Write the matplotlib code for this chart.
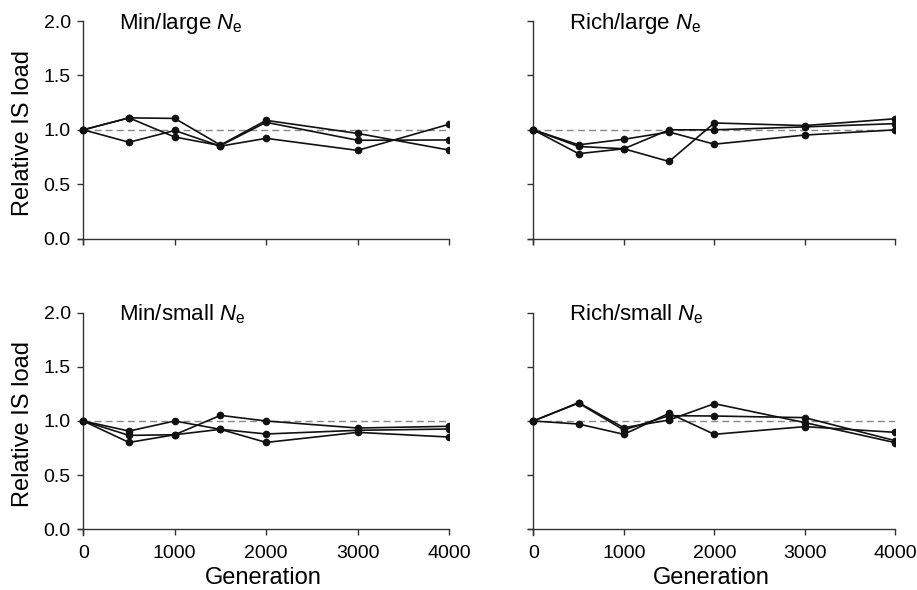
import matplotlib
matplotlib.use("Agg")
import matplotlib.pyplot as plt

plt.rcParams['font.family'] = ['Liberation Sans', 'DejaVu Sans']
plt.rcParams['mathtext.fontset'] = 'custom'
plt.rcParams['mathtext.rm'] = 'Liberation Sans'
plt.rcParams['mathtext.it'] = 'Liberation Sans:italic'

generations = [0, 500, 1000, 1500, 2000, 3000, 4000]

min_large = [
    [1.0, 1.11, 1.105, 0.86, 1.087, 0.967, 0.814],
    [1.0, 1.11, 0.934, 0.855, 1.069, 0.904, 0.907],
    [1.0, 0.886, 0.994, 0.85, 0.922, 0.811, 1.051],
]
rich_large = [
    [1.0, 0.862, 0.913, 0.98, 0.868, 0.952, 1.0],
    [1.0, 0.847, 0.826, 1.0, 1.0, 1.027, 1.057],
    [1.0, 0.781, 0.826, 0.709, 1.063, 1.039, 1.102],
]
min_small = [
    [1.0, 0.867, 0.873, 1.052, 1.0, 0.935, 0.951],
    [1.0, 0.907, 1.0, 0.923, 0.88, 0.914, 0.926],
    [1.0, 0.802, 0.873, 0.923, 0.802, 0.895, 0.852],
]
rich_small = [
    [1.0, 1.17, 0.938, 1.009, 1.16, 0.985, 0.80],
    [1.0, 1.165, 0.917, 1.049, 1.046, 1.031, 0.818],
    [1.0, 0.972, 0.877, 1.071, 0.877, 0.948, 0.895],
]

panel_titles = ["Min/large $N_\\mathrm{e}$", "Rich/large $N_\\mathrm{e}$",
                "Min/small $N_\\mathrm{e}$", "Rich/small $N_\\mathrm{e}$"]
panel_data = [min_large, rich_large, min_small, rich_small]

x_ticks = [0, 1000, 2000, 3000, 4000]
y_ticks = [0.0, 0.5, 1.0, 1.5, 2.0]

W, H = 917, 590
fig = plt.figure(figsize=(W / 100, H / 100), dpi=100)

rects = [
    (77.8 / W, (H - 244.1) / H, (449 - 77.8) / W, (244.1 - 21) / H),
    (527.9 / W, (H - 244.1) / H, (895.3 - 527.9) / W, (244.1 - 21) / H),
    (77.8 / W, (H - 534.7) / H, (449 - 77.8) / W, (534.7 - 312.7) / H),
    (527.9 / W, (H - 534.7) / H, (895.3 - 527.9) / W, (534.7 - 312.7) / H),
]

spine_color = '#333333'
for i, (rect, title, data) in enumerate(zip(rects, panel_titles, panel_data)):
    ax = fig.add_axes(rect)
    ax.plot([0, 4000], [1.0, 1.0], color='#888888', lw=1.0, ls=(0, (5, 3)), zorder=1)
    for series in data:
        ax.plot(generations, series, color='#111111', lw=1.2, marker='o',
                markersize=4.5, zorder=3)
    ax.set_xlim(-60, 4000)
    ax.set_ylim(-0.05, 2.0)
    ax.spines['top'].set_visible(False)
    ax.spines['right'].set_visible(False)
    ax.spines['left'].set_position(('data', 0))
    ax.spines['bottom'].set_position(('data', 0))
    for s in ('left', 'bottom'):
        ax.spines[s].set_color(spine_color)
        ax.spines[s].set_linewidth(1.0)
    ax.set_yticks(y_ticks)
    ax.set_xticks(x_ticks)
    ax.tick_params(direction='out', length=4, width=1, color=spine_color,
                   labelsize=14, pad=5)
    ax.tick_params(axis='x', pad=7)
    col = i % 2
    row = i // 2
    if col == 0:
        ax.set_yticklabels([f"{v:.1f}" for v in y_ticks])
        ax.set_ylabel("Relative IS load", fontsize=17, labelpad=7)
    else:
        ax.set_yticklabels([])
    if row == 1:
        ax.set_xticklabels([str(v) for v in x_ticks])
        ax.set_xlabel("Generation", fontsize=17, labelpad=4)
    else:
        ax.set_xticklabels([])
    ax.text(395, 1.93, title, fontsize=16, ha='left', va='baseline')

fig.savefig("out.png", dpi=100)
